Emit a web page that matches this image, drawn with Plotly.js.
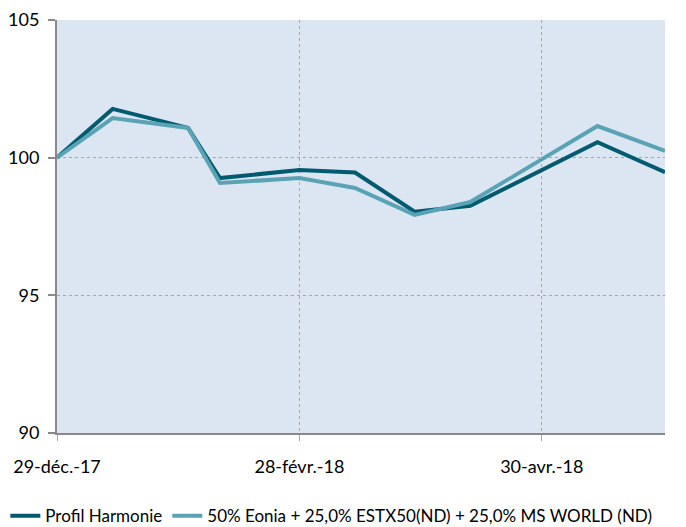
<!DOCTYPE html>
<html>
<head>
<meta charset="utf-8">
<script src="https://cdn.plot.ly/plotly-3.0.1.min.js"></script>
<style>html,body{margin:0;padding:0;background:#fff;}#chart{width:686px;height:527px;}</style>
</head>
<body>
<div id="chart"></div>
<script>
const dates = ['2017-12-29','2018-01-12','2018-01-31','2018-02-08','2018-02-28','2018-03-14','2018-03-29','2018-04-12','2018-05-14','2018-05-31'];
const profilHarmonie = [100, 101.77, 101.08, 99.26, 99.55, 99.46, 98.04, 98.25, 100.56, 99.47];
const benchmark = [100, 101.44, 101.08, 99.08, 99.26, 98.90, 97.92, 98.39, 101.15, 100.25];
const seriesNames = ['Profil Harmonie', '50% Eonia + 25,0% ESTX50(ND) + 25,0% MS WORLD (ND)'];
const tickDates = ['2017-12-29','2018-02-28','2018-04-30'];
const tickLabels = ['29-déc.-17','28-févr.-18','30-avr.-18'];
const yTicks = [90, 95, 100, 105];

const traces = [
  {x: dates, y: profilHarmonie, name: seriesNames[0], type: 'scatter', mode: 'lines',
   line: {color: '#005a70', width: 4}},
  {x: dates, y: benchmark, name: seriesNames[1], type: 'scatter', mode: 'lines',
   line: {color: '#5aa3b4', width: 4}}
];
const layout = {
  width: 686, height: 527,
  margin: {l: 57, r: 21, t: 20, b: 94, autoexpand: false},
  paper_bgcolor: '#ffffff', plot_bgcolor: '#dce6f2',
  font: {family: 'Lato, "Liberation Sans", sans-serif', size: 18, color: '#000'},
  showlegend: true,
  legend: {orientation: 'h', x: -0.085, xanchor: 'left', y: -0.158, yanchor: 'top',
           bgcolor: 'rgba(0,0,0,0)', font: {size: 17}, itemwidth: 30, tracegroupgap: 0, traceorder: 'normal'},
  xaxis: {type: 'date', range: ['2017-12-29','2018-05-31'], tickvals: tickDates, ticktext: tickLabels,
          showgrid: true, gridcolor: '#a6a6a6', griddash: 'dot', gridwidth: 1,
          showline: true, linecolor: '#898989', linewidth: 2, zeroline: false,
          ticks: 'outside', ticklen: 6, tickcolor: '#a6a6a6', tickwidth: 1, ticklabelstandoff: 10},
  yaxis: {range: [90, 105], tickvals: yTicks, showgrid: true, gridcolor: '#a6a6a6', griddash: 'dot', gridwidth: 1,
          showline: true, linecolor: '#898989', linewidth: 2, zeroline: false,
          ticks: 'outside', ticklen: 7, tickcolor: '#898989', tickwidth: 2, ticklabelstandoff: 5}
};
Plotly.newPlot('chart', traces, layout, {displayModeBar: false, staticPlot: true});
</script>
</body>
</html>
